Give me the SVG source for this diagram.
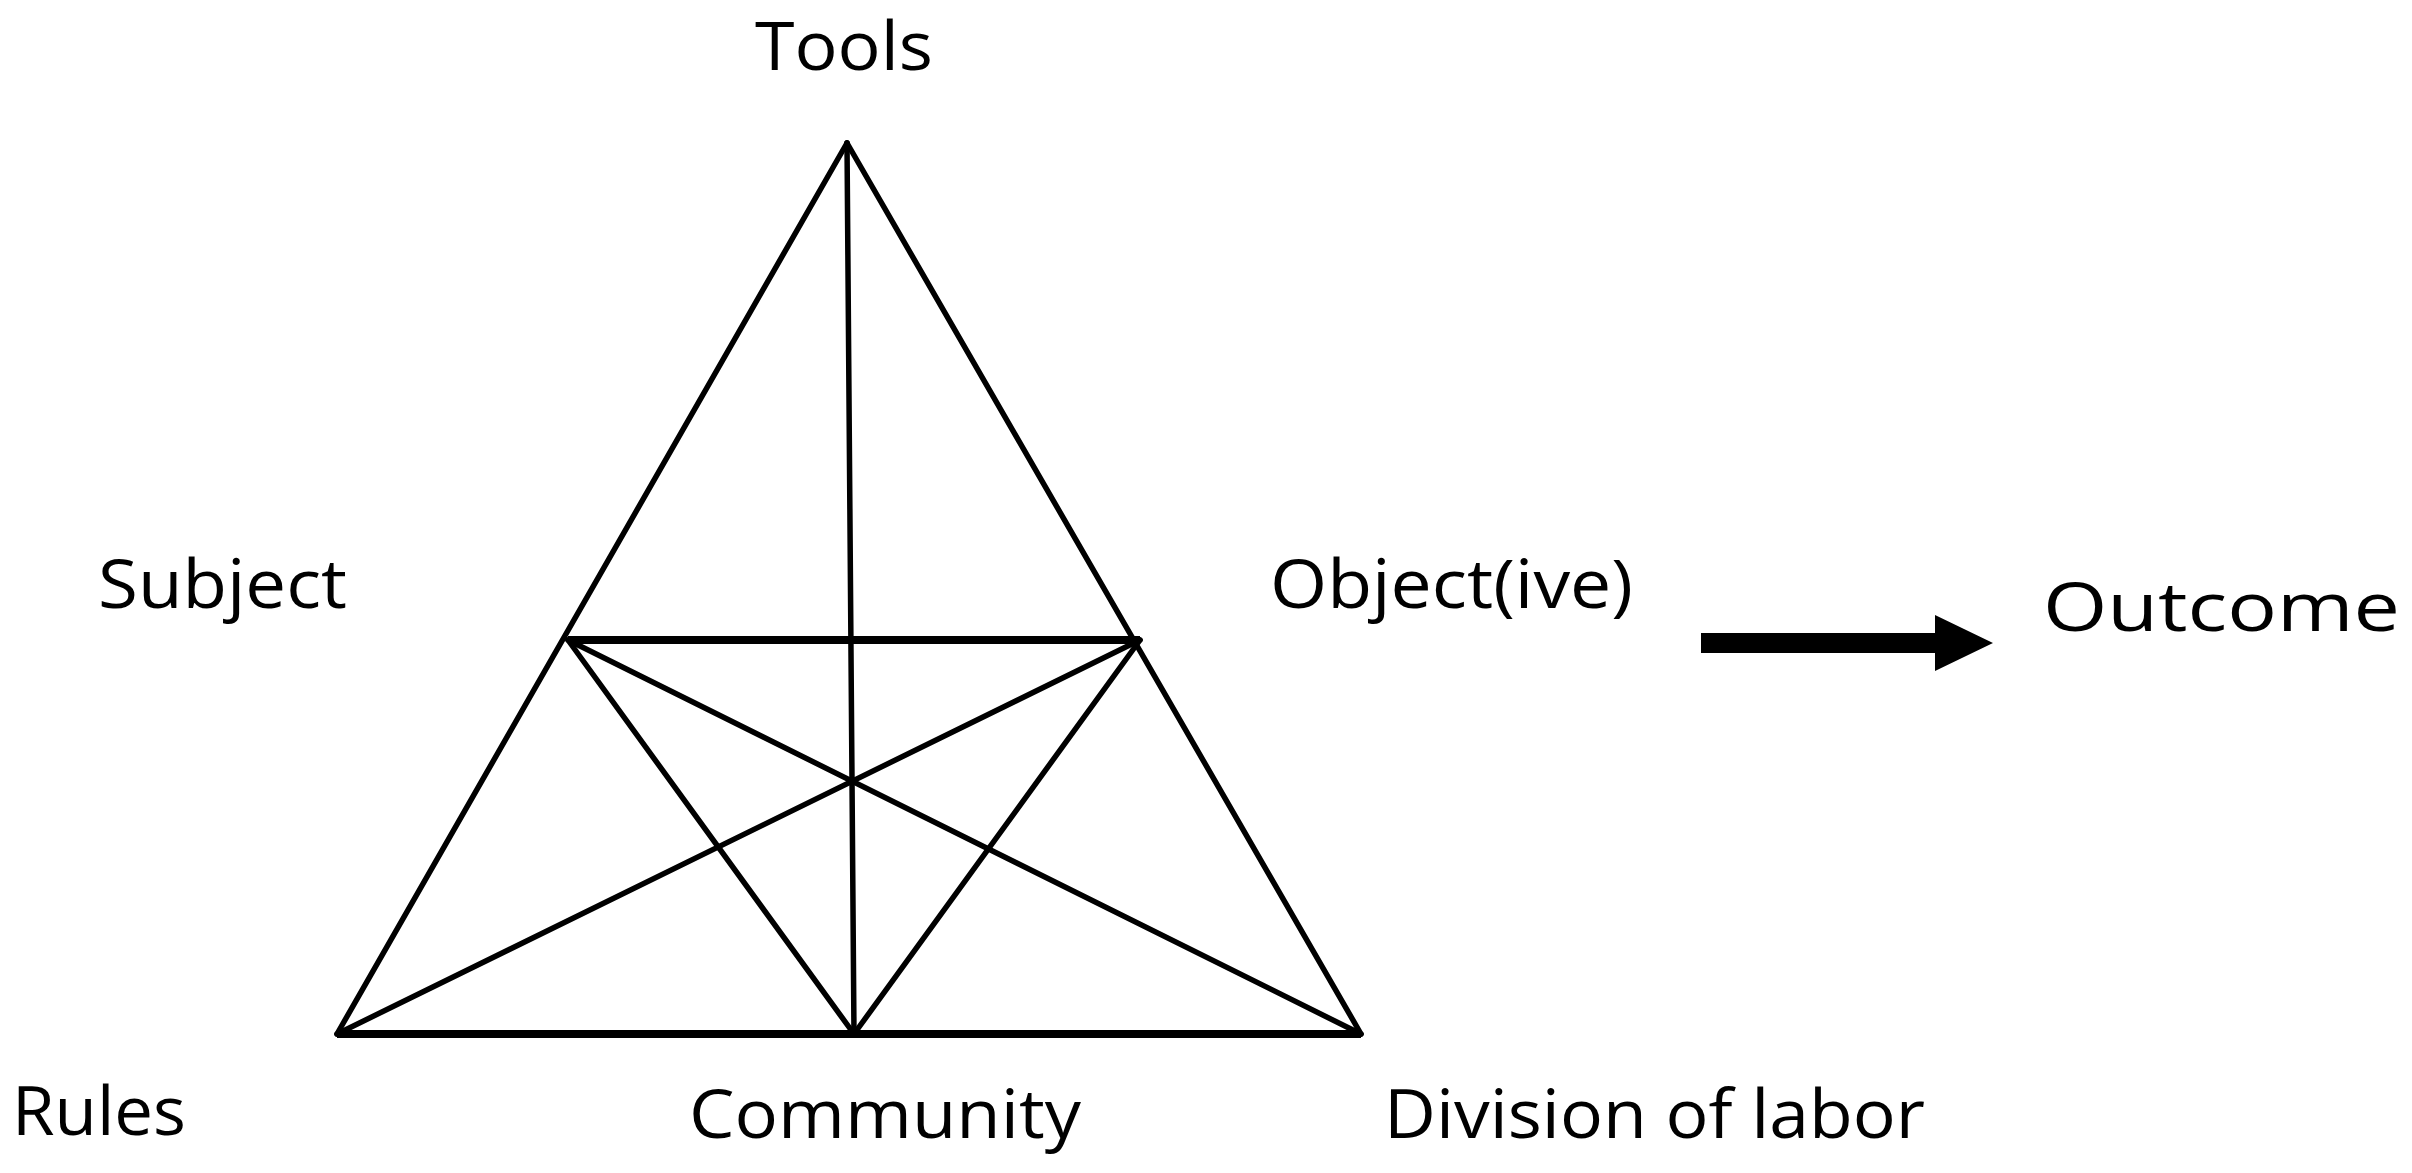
<svg xmlns="http://www.w3.org/2000/svg" width="2412" height="1173" viewBox="0 0 2412 1173">
<style>
text{font-family:"Open Sans","Noto Sans",sans-serif;font-size:68px;fill:#000}
.t{stroke:#000;stroke-width:5.5;fill:none;stroke-linecap:round}
.k{stroke:#000;stroke-width:8;fill:none}
</style>
<rect width="2412" height="1173" fill="#fff"/>
<g id="connectors">
<line class="t" x1="847" y1="143" x2="337" y2="1034"/>
<line class="t" x1="847" y1="143" x2="1361" y2="1034"/>
<line class="t" x1="847" y1="143" x2="854" y2="1034"/>
<line class="k" x1="337" y1="1034" x2="1361" y2="1034"/>
<line class="k" x1="568" y1="640" x2="1140" y2="640"/>
<line class="t" x1="568" y1="640" x2="854" y2="1034"/>
<line class="t" x1="1140" y1="640" x2="854" y2="1034"/>
<line class="t" x1="568" y1="640" x2="1361" y2="1034"/>
<line class="t" x1="1140" y1="640" x2="337" y2="1034"/>
<polygon points="1701,633 1935,633 1935,615 1993,643 1935,671 1935,653 1701,653" fill="#000"/>
</g>
<g id="tools"><text x="755" y="70" textLength="178" lengthAdjust="spacingAndGlyphs">Tools</text></g>
<g id="subject"><text x="98" y="608" textLength="249" lengthAdjust="spacingAndGlyphs">Subject</text></g>
<g id="object"><text x="1270" y="608" textLength="363" lengthAdjust="spacingAndGlyphs">Object(ive)</text></g>
<g id="outcome"><text x="2043" y="631" textLength="357" lengthAdjust="spacingAndGlyphs">Outcome</text></g>
<g id="rules"><text x="12" y="1135" textLength="174" lengthAdjust="spacingAndGlyphs">Rules</text></g>
<g id="community"><text x="689" y="1138" textLength="392" lengthAdjust="spacingAndGlyphs">Community</text></g>
<g id="division"><text x="1384" y="1138" textLength="541" lengthAdjust="spacingAndGlyphs">Division of labor</text></g>
</svg>
